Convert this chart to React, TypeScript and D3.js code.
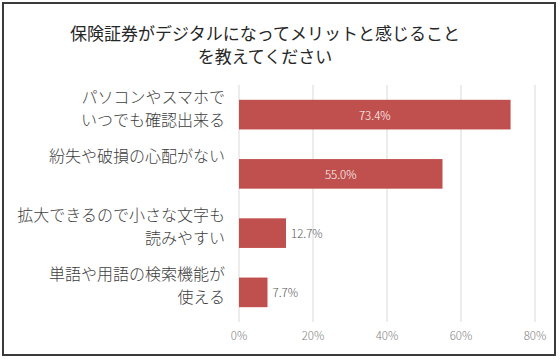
import React from 'react';
import * as d3 from 'd3';

const titleLines = ['保険証券がデジタルになってメリットと感じること', 'を教えてください'];

const categories = [
    'パソコンやスマホで\nいつでも確認出来る',
    '紛失や破損の心配がない',
    '拡大できるので小さな文字も\n読みやすい',
    '単語や用語の検索機能が\n使える',
];

const values = [73.4, 55.0, 12.7, 7.7];

const ticks = [0, 20, 40, 60, 80];

const WIDTH = 560;
const HEIGHT = 360;
const JP_FONT = '"Noto Sans CJK JP", "Noto Sans", sans-serif';
const NUM_FONT = '"Noto Sans CJK JP", "DejaVu Sans", sans-serif';

const App: React.FC = () => {
    const x = d3.scaleLinear().domain([0, 80]).range([239, 535]);
    const y = d3.scaleBand<number>()
        .domain(d3.range(categories.length))
        .range([85, 322])
        .paddingInner(0.5)
        .paddingOuter(0.25);

    const bw = y.bandwidth();

    return (
        <svg
            width={WIDTH}
            height={HEIGHT}
            style={{ position: 'absolute', left: 0, top: 0, background: '#fff' }}
        >
            {/* frame */}
            <rect x={3} y={3} width={552} height={352} fill="#fff" stroke="#3a3a3a" strokeWidth={2} />

            {/* title */}
            {titleLines.map((t, i) => (
                <text
                    key={i}
                    x={265}
                    y={32 + i * 23}
                    textAnchor="middle"
                    dominantBaseline="central"
                    style={{ fontFamily: JP_FONT, fontSize: 17, fontWeight: 400, fill: '#262626' }}
                >
                    {t}
                </text>
            ))}

            {/* gridlines */}
            {ticks.map(t => (
                <line
                    key={t}
                    x1={x(t)}
                    x2={x(t)}
                    y1={85}
                    y2={322}
                    stroke="#d9d9d9"
                    strokeWidth={1}
                />
            ))}

            {/* tick labels */}
            {ticks.map(t => (
                <text
                    key={t}
                    x={x(t)}
                    y={335}
                    textAnchor="middle"
                    dominantBaseline="central"
                    style={{ fontFamily: NUM_FONT, fontSize: 11.5, fontWeight: 300, fill: '#7f7f7f' }}
                >
                    {t}%
                </text>
            ))}

            {/* bars */}
            {values.map((v, i) => {
                const y0 = y(i) as number;
                const inside = v > 30;
                return (
                    <g key={i}>
                        <rect
                            x={x(0)}
                            y={y0}
                            width={x(v) - x(0)}
                            height={bw}
                            fill="#c0504d"
                        />
                        <text
                            x={inside ? (x(0) + x(v)) / 2 : x(v) + 5}
                            y={y0 + bw / 2}
                            textAnchor={inside ? 'middle' : 'start'}
                            dominantBaseline="central"
                            style={{
                                fontFamily: NUM_FONT,
                                fontSize: 11.5,
                                fontWeight: 300,
                                fill: inside ? '#ffffff' : '#595959',
                            }}
                        >
                            {v.toFixed(1)}%
                        </text>
                    </g>
                );
            })}

            {/* category labels */}
            {categories.map((c, i) => {
                const cy = (y(i) as number) + bw / 2;
                return c.split('\n').map((line, j) => (
                    <text
                        key={`${i}-${j}`}
                        x={225}
                        y={cy - 19 + j * 23}
                        textAnchor="end"
                        dominantBaseline="central"
                        style={{ fontFamily: JP_FONT, fontSize: 16, fontWeight: 300, fill: '#404040' }}
                    >
                        {line}
                    </text>
                ));
            })}
        </svg>
    );
};

export default App;
